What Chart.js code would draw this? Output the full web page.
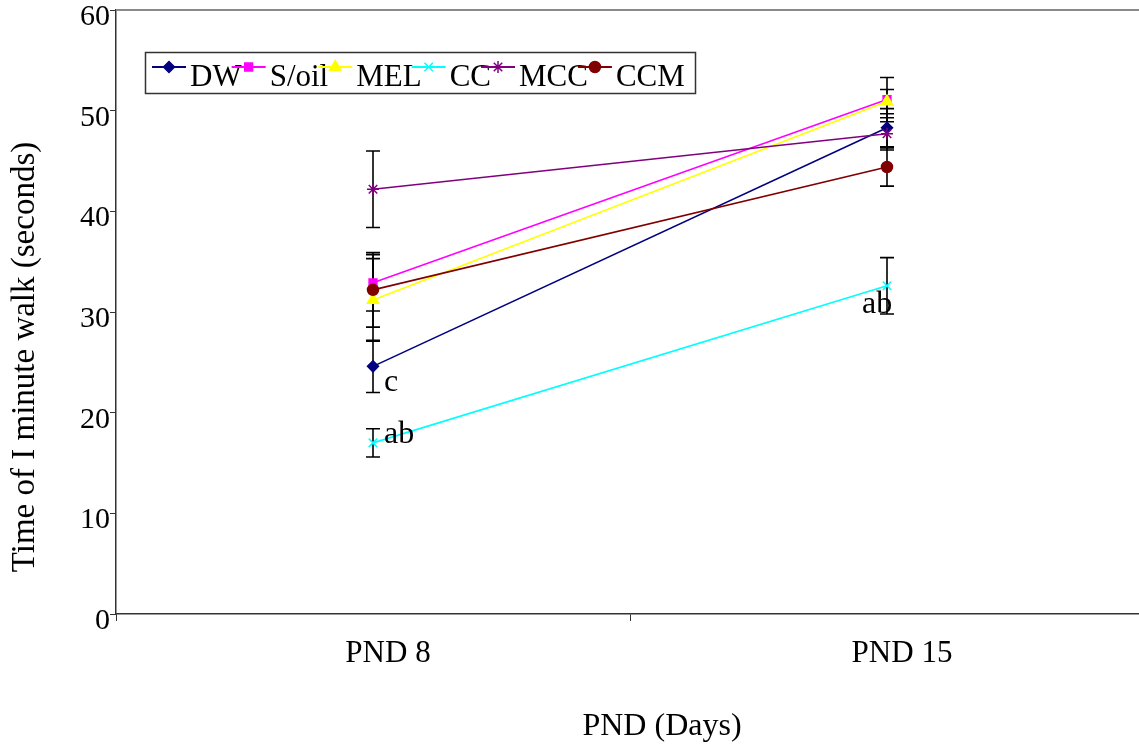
<!DOCTYPE html>
<html>
<head>
<meta charset="utf-8">
<title>Time of 1 minute walk</title>
<script src="https://cdn.jsdelivr.net/npm/chart.js@4/dist/chart.umd.min.js"></script>
<style>
  html, body { margin: 0; padding: 0; background: #fff; overflow: hidden; }
  #wrap { width: 1139px; height: 748px; overflow: hidden; }
</style>
</head>
<body>
<div id="wrap"><canvas id="c" width="1144" height="748"></canvas></div>
<script>
// Postnatal days on the x axis
const categories = ['PND 8', 'PND 15'];

// Group names
const seriesNames = ['DW', 'S/oil', 'MEL', 'CC', 'MCC', 'CCM'];

// Mean walking time (s) per group
const dwValues   = [24.6, 48.3];
const soilValues = [32.9, 51.1];
const melValues  = [31.2, 50.9];
const ccValues   = [17.0, 32.6];
const mccValues  = [42.2, 47.7];
const ccmValues  = [32.2, 44.4];

// Error (+/-) per group
const dwErr   = [2.6, 1.9];
const soilErr = [2.8, 2.2];
const melErr  = [4.1, 1.2];
const ccErr   = [1.4, 2.8];
const mccErr  = [3.8, 1.6];
const ccmErr  = [3.7, 1.9];

// Y axis range and step
const yMin = 0, yMax = 60, yStep = 10;

// Significance letters: [series, category index, text]
const sigLetters = [
  ['DW', 0, 'c'],
  ['CC', 0, 'ab'],
  ['CC', 1, 'ab']
];

const seriesValues = [dwValues, soilValues, melValues, ccValues, mccValues, ccmValues];
const seriesErrors = [dwErr, soilErr, melErr, ccErr, mccErr, ccmErr];

const SERIF = '"Liberation Serif", "DejaVu Serif", serif';

const styles = {
  'DW':    { color: '#000080', pointStyle: 'rectRot',  radius: 5.5 },
  'S/oil': { color: '#FF00FF', pointStyle: 'rect',     radius: 5.5 },
  'MEL':   { color: '#FFFF00', pointStyle: 'triangle', radius: 6.5 },
  'CC':    { color: '#00FFFF', pointStyle: 'crossRot', radius: 6 },
  'MCC':   { color: '#800080', pointStyle: 'star',     radius: 6 },
  'CCM':   { color: '#800000', pointStyle: 'circle',   radius: 5.5 }
};

const n = seriesNames.length;
const datasets = seriesNames.map((name, i) => {
  const s = styles[name];
  return {
    label: name,
    data: seriesValues[i],
    errors: seriesErrors[i],
    borderColor: s.color,
    backgroundColor: s.color,
    pointBackgroundColor: s.color,
    pointBorderColor: s.color,
    pointStyle: s.pointStyle,
    pointRadius: s.radius,
    pointBorderWidth: 1.5,
    borderWidth: 1.6,
    tension: 0,
    fill: false,
    clip: false,
    order: n - 1 - i
  };
});

// Black error bars with caps, under the lines
const errorBarPlugin = {
  id: 'errorBars',
  beforeDatasetsDraw(chart) {
    const ctx = chart.ctx;
    const x = chart.scales.x, y = chart.scales.y;
    ctx.save();
    ctx.strokeStyle = '#000';
    ctx.lineWidth = 1.6;
    chart.data.datasets.forEach(ds => {
      ds.data.forEach((v, j) => {
        const e = ds.errors[j];
        const px = x.getPixelForValue(j);
        const top = y.getPixelForValue(v + e);
        const bot = y.getPixelForValue(v - e);
        ctx.beginPath();
        ctx.moveTo(px, top); ctx.lineTo(px, bot);
        ctx.moveTo(px - 7, top); ctx.lineTo(px + 7, top);
        ctx.moveTo(px - 7, bot); ctx.lineTo(px + 7, bot);
        ctx.stroke();
      });
    });
    ctx.restore();
  }
};

// Frame top line, axis titles, legend box and letters
const decorPlugin = {
  id: 'decor',
  afterDraw(chart) {
    const ctx = chart.ctx;
    const a = chart.chartArea;
    const xs = chart.scales.x, ys = chart.scales.y;
    ctx.save();

    // top frame line
    ctx.strokeStyle = '#8a8a8a';
    ctx.lineWidth = 2;
    ctx.beginPath();
    ctx.moveTo(a.left, a.top);
    ctx.lineTo(a.right, a.top);
    ctx.stroke();

    // axis titles
    ctx.fillStyle = '#000';
    ctx.font = '32px ' + SERIF;
    ctx.textAlign = 'center';
    ctx.textBaseline = 'middle';
    ctx.fillText('PND (Days)', 662, 727);
    ctx.save();
    ctx.translate(25, 357);
    ctx.rotate(-Math.PI / 2);
    ctx.font = '33px ' + SERIF;
    ctx.fillText('Time of I minute walk (seconds)', 0, 0);
    ctx.restore();

    // significance letters
    ctx.font = '32px ' + SERIF;
    ctx.textBaseline = 'alphabetic';
    ctx.textAlign = 'left';
    sigLetters.forEach(([name, j, txt]) => {
      const i = seriesNames.indexOf(name);
      const px = xs.getPixelForValue(j);
      const py = ys.getPixelForValue(seriesValues[i][j]);
      if (j === 0 && name === 'DW') ctx.fillText(txt, px + 11, py + 25);
      else if (j === 0) ctx.fillText(txt, px + 11, py);
      else ctx.fillText(txt, px - 25, py + 27);
    });

    // legend
    const bx = 145.5, by = 52.5, bw = 550, bh = 41;
    ctx.fillStyle = '#fff';
    ctx.fillRect(bx, by, bw, bh);
    ctx.strokeStyle = '#333';
    ctx.lineWidth = 1.5;
    ctx.strokeRect(bx, by, bw, bh);
    ctx.font = '31px ' + SERIF;
    ctx.textBaseline = 'alphabetic';
    let lx = 152;
    const lineY = 67, textY = 86;
    seriesNames.forEach(name => {
      const s = styles[name];
      ctx.strokeStyle = s.color;
      ctx.fillStyle = s.color;
      ctx.lineWidth = 1.8;
      ctx.beginPath();
      ctx.moveTo(lx, lineY);
      ctx.lineTo(lx + 34, lineY);
      ctx.stroke();
      ctx.lineWidth = 1.5;
      Chart.helpers.drawPoint(ctx, {
        pointStyle: s.pointStyle, radius: s.radius, rotation: 0, borderWidth: 1.5
      }, lx + 17, lineY);
      ctx.fillStyle = '#000';
      const tx = lx + 38;
      ctx.fillText(name, tx, textY);
      lx = tx + ctx.measureText(name).width - 10;
    });

    ctx.restore();
  }
};

new Chart(document.getElementById('c'), {
  type: 'line',
  data: { labels: categories, datasets },
  plugins: [errorBarPlugin, decorPlugin],
  options: {
    responsive: false,
    animation: false,
    layout: { autoPadding: false, padding: { top: 10, right: 0, left: 0, bottom: 0 } },
    plugins: {
      legend: { display: false },
      tooltip: { enabled: false },
      title: { display: false }
    },
    scales: {
      x: {
        type: 'category',
        offset: true,
        grid: {
          offset: true,
          drawOnChartArea: false,
          drawTicks: true,
          tickLength: 7,
          color: '#333',
          lineWidth: 1
        },
        border: { display: true, color: '#333', width: 1.5 },
        ticks: {
          color: '#000',
          font: { family: SERIF, size: 31 },
          padding: 14,
          maxRotation: 0,
          labelOffset: 15
        },
        afterFit(scale) {
          scale.height = 134;
          scale.paddingLeft = 0;
          scale.paddingRight = 0;
        }
      },
      y: {
        min: yMin,
        max: yMax,
        grid: {
          drawOnChartArea: false,
          drawTicks: true,
          tickLength: 6,
          color: '#333',
          lineWidth: 1
        },
        border: { display: true, color: '#333', width: 1.5 },
        ticks: {
          stepSize: yStep,
          color: '#000',
          font: { family: SERIF, size: 30 },
          padding: 0,
          labelOffset: 7
        },
        afterFit(scale) {
          scale.width = 116;
          scale.paddingTop = 0;
          scale.paddingBottom = 0;
        }
      }
    }
  }
});
</script>
</body>
</html>
